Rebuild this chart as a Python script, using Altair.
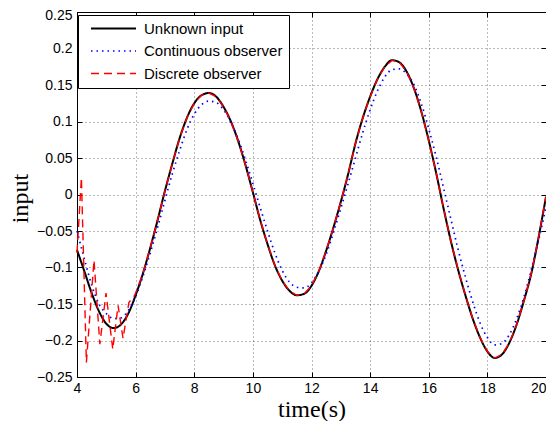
import altair as alt
import pandas as pd

# ---- data ----
names = ["Unknown input", "Continuous observer", "Discrete observer"]
colors = ["#000000", "#0000ff", "#ff0000"]
dashes = [[1, 0], [1.5, 4], [8, 5]]
widths = [2, 1.4, 2.5]

x_ticks = [4, 6, 8, 10, 12, 14, 16, 18, 20]
y_ticks = [-0.25, -0.2, -0.15, -0.1, -0.05, 0, 0.05, 0.1, 0.15, 0.2, 0.25]

t_main = [4.0, 4.25, 4.5, 4.75, 5.0, 5.25, 5.5, 5.75, 6.0, 6.25, 6.5, 6.75,
          7.0, 7.25, 7.5, 7.75, 8.0, 8.25, 8.5, 8.75, 9.0, 9.25, 9.5, 9.75,
          10.0, 10.25, 10.5, 10.75, 11.0, 11.25, 11.5, 11.75, 12.0, 12.25, 12.5, 12.75,
          13.0, 13.25, 13.5, 13.75, 14.0, 14.25, 14.5, 14.75, 15.0, 15.25, 15.5, 15.75,
          16.0, 16.25, 16.5, 16.75, 17.0, 17.25, 17.5, 17.75, 18.0, 18.25, 18.5, 18.75,
          19.0, 19.25, 19.5, 19.75, 20.0]

u_true = [-0.076, -0.105, -0.135, -0.160, -0.177, -0.183, -0.178, -0.163, -0.138, -0.108, -0.073, -0.035,
          0.005, 0.042, 0.077, 0.105, 0.125, 0.136, 0.139, 0.134, 0.120, 0.100, 0.073, 0.040,
          0.003, -0.035, -0.068, -0.097, -0.118, -0.132, -0.138, -0.136, -0.125, -0.105, -0.077, -0.045,
          -0.010, 0.028, 0.070, 0.105, 0.134, 0.158, 0.175, 0.184, 0.181, 0.168, 0.145, 0.113,
          0.074, 0.030, -0.018, -0.063, -0.103, -0.138, -0.170, -0.196, -0.215, -0.224, -0.219, -0.203,
          -0.178, -0.145, -0.108, -0.058, -0.003]

u_cont = [-0.050, -0.088, -0.124, -0.150, -0.163, -0.170, -0.169, -0.159, -0.140, -0.112, -0.080, -0.045,
          -0.008, 0.028, 0.060, 0.089, 0.110, 0.123, 0.128, 0.126, 0.116, 0.099, 0.076, 0.047,
          0.015, -0.018, -0.050, -0.080, -0.104, -0.120, -0.127, -0.128, -0.121, -0.105, -0.082, -0.052,
          -0.019, 0.015, 0.050, 0.085, 0.116, 0.142, 0.161, 0.171, 0.172, 0.165, 0.150, 0.124,
          0.090, 0.052, 0.010, -0.033, -0.075, -0.113, -0.147, -0.176, -0.196, -0.206, -0.204, -0.192,
          -0.170, -0.140, -0.103, -0.062, -0.018]

t_disc = [4.0, 4.15, 4.32, 4.58, 4.78, 4.99, 5.22, 5.40, 5.57, 5.77, 5.97,
          6.25, 6.5, 6.75,
          7.0, 7.25, 7.5, 7.75, 8.0, 8.25, 8.5, 8.75, 9.0, 9.25, 9.5, 9.75,
          10.0, 10.25, 10.5, 10.75, 11.0, 11.25, 11.5, 11.75, 12.0, 12.25, 12.5, 12.75,
          13.0, 13.25, 13.5, 13.75, 14.0, 14.25, 14.5, 14.75, 15.0, 15.25, 15.5, 15.75,
          16.0, 16.25, 16.5, 16.75, 17.0, 17.25, 17.5, 17.75, 18.0, 18.25, 18.5, 18.75,
          19.0, 19.25, 19.5, 19.75, 20.0]

u_disc = [-0.080, 0.023, -0.230, -0.090, -0.205, -0.135, -0.212, -0.152, -0.197, -0.148, -0.138,
          -0.108, -0.073, -0.035,
          0.005, 0.042, 0.077, 0.105, 0.125, 0.136, 0.139, 0.134, 0.120, 0.100, 0.073, 0.040,
          0.003, -0.035, -0.068, -0.097, -0.118, -0.132, -0.138, -0.136, -0.125, -0.105, -0.077, -0.045,
          -0.010, 0.028, 0.070, 0.105, 0.134, 0.158, 0.175, 0.184, 0.181, 0.168, 0.145, 0.113,
          0.074, 0.030, -0.018, -0.063, -0.103, -0.138, -0.170, -0.196, -0.215, -0.224, -0.219, -0.203,
          -0.178, -0.145, -0.108, -0.058, -0.003]

df_true = pd.DataFrame({"t": t_main, "v": u_true, "series": names[0]})
df_cont = pd.DataFrame({"t": t_main, "v": u_cont, "series": names[1]})
df_disc = pd.DataFrame({"t": t_disc, "v": u_disc, "series": names[2]})

SANS = "Liberation Sans"
SERIF = "Liberation Serif"

xscale = alt.Scale(domain=[4, 20], nice=False, zero=False)
yscale = alt.Scale(domain=[-0.25, 0.25], nice=False, zero=False)

x_main = alt.X("t:Q", scale=xscale, axis=alt.Axis(
    orient="bottom", values=x_ticks, offset=-5, tickSize=5, domain=False,
    grid=True, gridDash=[1, 3], gridColor="#000000", gridOpacity=0.55,
    labelFont=SANS, labelFontSize=14, labelColor="#000000", labelPadding=4,
    labelFlush=False, labelOverlap=False, tickColor="#000000",
    labelAlign={"condition": {"test": "datum.value >= 20", "value": "right"}, "value": "center"},
    title="time(s)", titleFont=SERIF, titleFontSize=24, titleFontWeight="normal",
    titleColor="#000000", titlePadding=2))

y_main = alt.Y("v:Q", scale=yscale, axis=alt.Axis(
    orient="left", values=y_ticks, format=".2~f", offset=-5, tickSize=5, domain=False,
    grid=True, gridDash=[1, 3], gridColor="#000000", gridOpacity=0.55,
    labelFont=SANS, labelFontSize=14, labelColor="#000000", labelPadding=5,
    labelFlush=False, labelOverlap=False, tickColor="#000000",
    labelOffset={"condition": {"test": "datum.value >= 0.25", "value": 3}, "value": 0},
    title="input", titleFont=SERIF, titleFontSize=24, titleFontWeight="normal",
    titleColor="#000000", titlePadding=4, titleY=186))

legend = alt.Legend(
    title=None, orient="none", legendX=1, legendY=3,
    symbolType="stroke", symbolSize=2025, symbolOffset=6,
    labelFont=SANS, labelFontSize=15, labelColor="#000000", labelOffset=7,
    padding=6, fillColor="white", strokeColor="black",
    clipHeight=15, rowPadding=6.5)

color = alt.Color("series:N", scale=alt.Scale(domain=names, range=colors), legend=legend)
dash = alt.StrokeDash("series:N", scale=alt.Scale(domain=names, range=dashes))
width = alt.StrokeWidth("series:N", scale=alt.Scale(domain=names, range=widths))

enc_plain = dict(x=alt.X("t:Q", scale=xscale, axis=None),
                 y=alt.Y("v:Q", scale=yscale, axis=None),
                 color=color, strokeDash=dash, strokeWidth=width)

l_true = alt.Chart(df_true).mark_line(interpolate="monotone").encode(
    x=x_main, y=y_main, color=color, strokeDash=dash, strokeWidth=width)
l_cont = alt.Chart(df_cont).mark_line(interpolate="monotone").encode(**enc_plain)
l_disc = alt.Chart(df_disc).mark_line(interpolate="linear").encode(**enc_plain)

ghost = alt.Chart(df_true).mark_line(opacity=0).encode(
    x=alt.X("t:Q", scale=xscale, axis=alt.Axis(
        orient="top", values=x_ticks, offset=-5, tickSize=5, domain=False,
        labels=False, grid=False, tickColor="#000000", title=None)),
    y=alt.Y("v:Q", scale=yscale, axis=alt.Axis(
        orient="right", values=y_ticks, offset=-5, tickSize=5, domain=False,
        labels=False, grid=False, tickColor="#000000", title=None)))

chart = alt.layer(l_true, l_cont, l_disc, ghost).resolve_axis(
    x="independent", y="independent"
).properties(
    width=469, height=365,
    padding={"left": 69, "top": 4, "right": 0, "bottom": 44},
    autosize=alt.AutoSizeParams(type="none"),
    background="white",
).configure_view(stroke="#000000", strokeWidth=1)

chart.save("out.html", embed_options={"renderer": "svg", "actions": False})
